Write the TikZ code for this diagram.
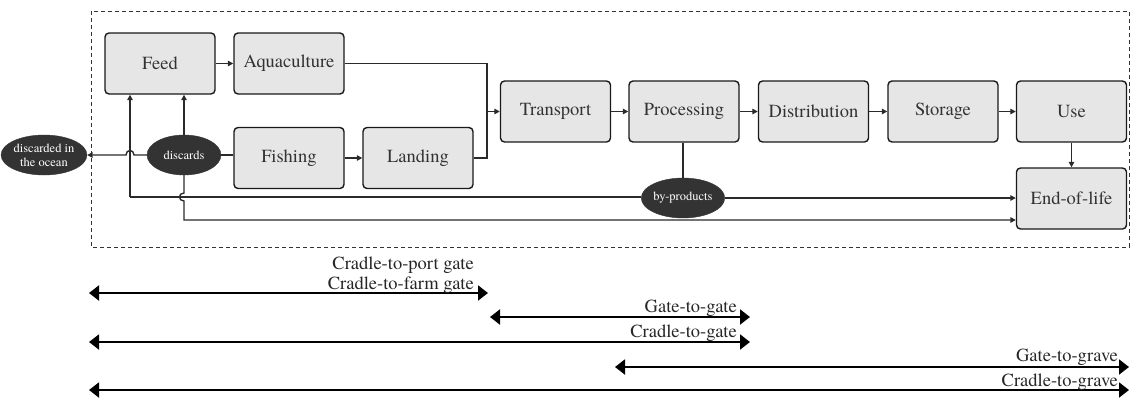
\documentclass[tikz,border=0pt]{standalone}
\usepackage{fontspec}
\setmainfont{texgyretermes}[Extension=.otf, UprightFont=*-regular, BoldFont=*-bold, ItalicFont=*-italic, BoldItalicFont=*-bolditalic]
\usetikzlibrary{arrows.meta,shapes.geometric}
\definecolor{boxfill}{HTML}{E6E6E6}
\definecolor{boxtext}{HTML}{333333}
\definecolor{ellfill}{HTML}{333333}
\definecolor{linecol}{HTML}{2A2A2A}
\tikzset{
  stage/.style={draw=black!90, line width=1.4pt, fill=boxfill, rounded corners=4pt,
    minimum width=110pt, minimum height=61pt, inner sep=0pt,
    font=\fontsize{18.5}{20}\selectfont, text=boxtext},
  blob/.style={ellipse, draw=ellfill, fill=ellfill, minimum width=74pt, minimum height=40pt,
    inner sep=0pt, font=\fontsize{12.5}{14}\selectfont, text=white, align=center},
  flow/.style={draw=linecol, line width=1.4pt, -{Triangle[length=5.5pt,width=5.5pt]}},
  plain/.style={draw=linecol, line width=1.4pt},
  span/.style={draw=black, line width=2pt, {Triangle[length=10pt,width=15pt]}-{Triangle[length=10pt,width=15pt]}},
  lab/.style={anchor=base east, inner sep=0pt, font=\fontsize{18.5}{20}\selectfont, text=black!85}
}
\begin{document}
\begin{tikzpicture}[x=1pt,y=-1pt]
\useasboundingbox (0,0) rectangle (1130,400);
\draw[dashed, dash pattern=on 4pt off 3pt, line width=1pt, draw=black!80] (91,11) rectangle (1129,247);

% stages
\node[stage] (feed) at (160,63.5) {Feed};
\node[stage] (aqua) at (289,63.5) {Aquaculture};
\node[stage] (fish) at (289,158) {Fishing};
\node[stage] (land) at (418,158) {Landing};
\node[stage] (trans) at (555.5,111.5) {Transport};
\node[stage] (proc) at (684,111.5) {Processing};
\node[stage] (dist) at (813.5,111.5) {Distribution};
\node[stage] (stor) at (943,111.5) {Storage};
\node[stage] (use) at (1071.5,111.5) {Use};
\node[stage] (eol) at (1071.5,198.5) {End-of-life};

% ellipses
\node[blob] (ocean) at (44,155) {discarded in\\the ocean};
\node[blob] (disc) at (184,155) {discards};
\node[blob] (byp) at (683,198) {by-products};

% junction coordinates
\coordinate (jn) at (487,111.5);
\coordinate (loopA) at (130,197);
\coordinate (loopB) at (184,220);

% main flow
\draw[flow] (feed) -- (aqua);
\draw[flow] (fish) -- (land);
\draw[plain] (aqua.east) -| (jn);
\draw[plain] (land.east) -| (jn);
\draw[flow] (jn) -- (trans.west);
\draw[flow] (trans) -- (proc);
\draw[flow] (proc) -- (dist);
\draw[flow] (dist) -- (stor);
\draw[flow] (stor) -- (use);
\draw[flow] (use) -- (eol);

% discards
\draw[plain] (disc.east) -- (disc.east -| fish.west);
\draw[flow] (disc.north) -- (disc.north |- feed.south);
\draw[flow] (disc.west) -- (134,155) .. controls (134,149) and (126,149) .. (126,155) -- (ocean.east);
\draw[flow] (disc.south) -- (184,193) .. controls (178,193) and (178,201) .. (184,201) -- (loopB) -- (loopB -| eol.west);

% recycling line to feed and end-of-life
\draw[flow] (loopA) -- (loopA |- feed.south);
\draw[plain] (loopA) -- (loopA -| byp.west);
\draw[flow] (byp.east) -- (byp.east -| eol.west);
\draw[plain] (proc.south -| byp.north) -- (byp.north);

% system boundary spans
\coordinate (r1a) at (89,293);  \coordinate (r1b) at (488,293);
\coordinate (r2a) at (490,317); \coordinate (r2b) at (750,317);
\coordinate (r3a) at (89,342);  \coordinate (r3b) at (750,342);
\coordinate (r4a) at (615,367); \coordinate (r4b) at (1129,367);
\coordinate (r5a) at (89,390);  \coordinate (r5b) at (1129,390);
\draw[span] (r1a) -- (r1b);
\draw[span] (r2a) -- (r2b);
\draw[span] (r3a) -- (r3b);
\draw[span] (r4a) -- (r4b);
\draw[span] (r5a) -- (r5b);

\node[lab] (l1a) at (474,269) {Cradle-to-port gate};
\node[lab] (l1b) at (474,289) {Cradle-to-farm gate};
\node[lab] (l2) at (737,312.5) {Gate-to-gate};
\node[lab] (l3) at (737,337) {Cradle-to-gate};
\node[lab] (l4) at (1118,361.5) {Gate-to-grave};
\node[lab] (l5) at (1118,386) {Cradle-to-grave};
\end{tikzpicture}
\end{document}
